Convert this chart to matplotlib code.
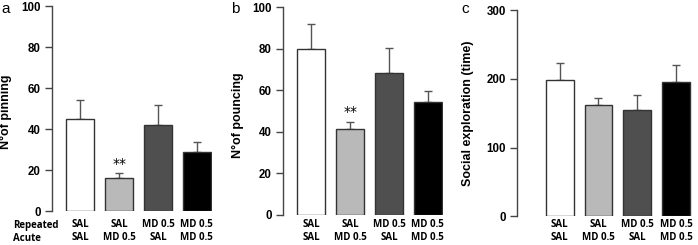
import matplotlib
matplotlib.use("Agg")
import matplotlib.pyplot as plt
import numpy as np

# groups: repeated / acute treatment
GROUP_LABELS = ["SAL\nSAL", "SAL\nMD 0.5", "MD 0.5\nSAL", "MD 0.5\nMD 0.5"]
BAR_COLORS = ["#ffffff", "#b9b9b9", "#4f4f4f", "#000000"]

pinning_mean = [45.2, 16.1, 42.1, 29.1]
pinning_sem = [9.2, 2.4, 9.9, 4.6]

pouncing_mean = [80.0, 41.2, 68.4, 54.5]
pouncing_sem = [11.9, 3.6, 11.9, 5.0]

social_mean = [198.9, 162.5, 154.7, 196.0]
social_sem = [23.8, 9.3, 21.9, 24.2]

W, H = 698, 245
FONT = "Liberation Sans"
CAT_FONT = "Open Sans"

fig = plt.figure(figsize=(W / 100, H / 100), dpi=100)

# letter, ylabel, means, sems, ymax, yticks, spine x px, xmin, y0 px, ytop px,
# significance mark, ylabel right edge px, ylabel centre (axes frac), letter x px
panels = [
    ("a", "N°of pinning", pinning_mean, pinning_sem, 100, [0, 20, 40, 60, 80, 100],
     52, -0.73, 211.3, 6.3, True, 12.5, 0.485, 1),
    ("b", "N°of pouncing", pouncing_mean, pouncing_sem, 100, [0, 20, 40, 60, 80, 100],
     283, -0.73, 214.7, 7.2, True, 243.5, 0.48, 231),
    ("c", "Social exploration (time)", social_mean, social_sem, 300, [0, 100, 200, 300],
     517, -1.1, 216.3, 10.3, False, 474, 0.5, 461),
]

step = 38.8  # px between bar centres
xmax = 3.4
x = np.arange(len(GROUP_LABELS))

for (letter, ylabel, means, sems, ymax, yticks, left, xmin, y0, ytop, sig,
     ylab_x, ylab_y, letter_x) in panels:
    width_px = (xmax - xmin) * step
    ax = fig.add_axes([left / W, (H - y0) / H, width_px / W, (y0 - ytop) / H])
    ax.bar(x, means, width=0.72, color=BAR_COLORS, edgecolor="#333333", linewidth=1.0, zorder=2)
    ax.errorbar(x, means, yerr=[np.zeros(len(sems)), sems], fmt="none",
                ecolor="#555555", elinewidth=1.0, capsize=3.2, capthick=1.0, zorder=1)
    ax.set_xlim(xmin, xmax)
    ax.set_ylim(0, ymax)
    ax.set_yticks(yticks)
    for s in ("top", "right", "bottom"):
        ax.spines[s].set_visible(False)
    ax.spines["left"].set_color("#444444")
    ax.spines["left"].set_linewidth(1.0)
    ax.tick_params(axis="y", length=5, width=1.0, color="#444444", pad=3)
    ax.set_yticklabels([str(t) for t in yticks], fontfamily=FONT, fontweight="bold", fontsize=8.3)
    ax.set_xticks(x)
    ax.set_xticklabels(GROUP_LABELS, fontfamily=CAT_FONT, fontweight="bold", fontsize=7,
                       linespacing=1.3)
    # keep the two label rows at the same height in every panel
    ax.tick_params(axis="x", length=0, pad=5.5 - (y0 - 211.3) * 0.72)
    ax.set_ylabel(ylabel, fontfamily=FONT, fontweight="bold", fontsize=9)
    ax.yaxis.set_label_coords((ylab_x - left) / width_px, ylab_y)
    if sig:
        ax.text(1, means[1] + sems[1] + ymax * 0.012, "**", ha="center", va="bottom",
                fontsize=10, fontfamily="DejaVu Sans")
    fig.text(letter_x / W, 1 - 2 / H, letter, ha="left", va="top", fontsize=11, fontfamily=FONT)

fig.text(13 / W, 1 - 225 / H, "Repeated", ha="left", va="center",
         fontfamily=CAT_FONT, fontweight="bold", fontsize=7)
fig.text(13 / W, 1 - 238 / H, "Acute", ha="left", va="center",
         fontfamily=CAT_FONT, fontweight="bold", fontsize=7)

fig.savefig("out.png", dpi=100)
